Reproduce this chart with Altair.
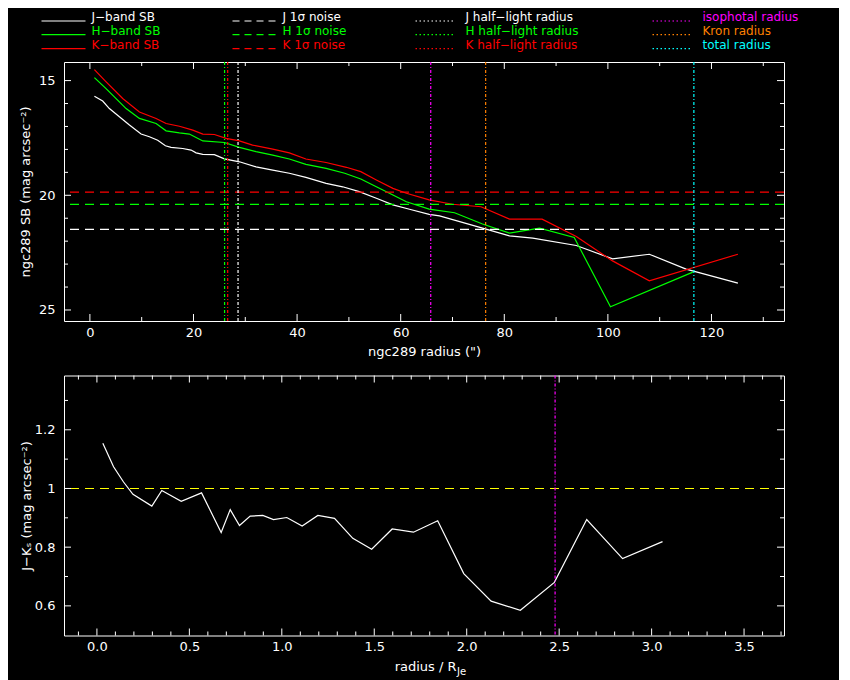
import altair as alt
import pandas as pd

# ---------------- data ----------------
j_r = [0.87, 2.47, 3.76, 5.69, 7.63, 9.88, 11.49, 13.09, 14.58, 15.67, 17.92, 19.53, 20.5, 21.78,
       24.03, 25.97, 28.86, 32.08, 35.3, 38.5, 41.7, 45.6, 48.8, 52.0, 55.3, 58.5, 61.7, 65.5,
       67.5, 75.8, 81.0, 85.5, 93.9, 100.9, 108.0, 115.1, 125.1]
j_sb = [15.68, 15.89, 16.22, 16.58, 16.94, 17.33, 17.45, 17.60, 17.84, 17.91, 17.96, 18.03, 18.15,
        18.22, 18.23, 18.41, 18.54, 18.76, 18.90, 19.04, 19.22, 19.48, 19.63, 19.84, 20.13, 20.42,
        20.61, 20.83, 20.90, 21.43, 21.77, 21.87, 22.19, 22.77, 22.57, 23.22, 23.83]

h_r = [0.87, 3.12, 6.99, 9.56, 12.78, 14.71, 17.28, 19.2, 21.8, 25.97, 28.86, 32.08, 35.3, 38.5,
       41.7, 45.6, 49.2, 52.3, 55.3, 58.5, 61.1, 65.5, 70.4, 75.8, 81.0, 86.8, 93.5, 100.5, 116.4]
h_sb = [14.87, 15.35, 16.22, 16.65, 16.87, 17.19, 17.28, 17.33, 17.63, 17.70, 17.91, 18.10, 18.25,
        18.42, 18.65, 18.83, 19.04, 19.29, 19.63, 19.99, 20.28, 20.60, 20.76, 21.25, 21.65, 21.43,
        21.84, 24.86, 23.35]

k_r = [0.87, 2.99, 6.33, 9.56, 12.78, 14.71, 17.28, 19.86, 21.8, 24.03, 26.3, 28.86, 31.4, 35.3,
       38.5, 41.7, 45.6, 49.5, 52.3, 55.3, 58.5, 61.1, 65.5, 70.0, 75.5, 81.0, 87.3, 93.9, 100.9,
       108.0, 125.1]
k_sb = [14.52, 15.02, 15.78, 16.37, 16.65, 16.87, 16.99, 17.16, 17.33, 17.35, 17.52, 17.63, 17.81,
        17.99, 18.15, 18.42, 18.57, 18.78, 18.97, 19.33, 19.70, 19.91, 20.20, 20.39, 20.50, 21.04,
        21.04, 21.80, 22.86, 23.73, 22.57]

noise_band = ["J", "H", "K"]
noise_sb = [21.49, 20.40, 19.86]

radius_names = ["J half-light", "H half-light", "K half-light", "isophotal", "Kron", "total"]
radius_vals = [28.6, 26.0, 26.6, 65.8, 76.4, 116.6]

jk_x = [0.032, 0.090, 0.144, 0.195, 0.297, 0.351, 0.456, 0.566, 0.672, 0.721, 0.771, 0.829,
        0.897, 0.955, 1.027, 1.110, 1.195, 1.285, 1.384, 1.486, 1.597, 1.712, 1.843, 1.984,
        2.132, 2.290, 2.474, 2.649, 2.843, 3.059]
jk_y = [1.154, 1.074, 1.022, 0.980, 0.940, 0.993, 0.956, 0.985, 0.850, 0.928, 0.874, 0.906,
        0.908, 0.894, 0.901, 0.872, 0.908, 0.898, 0.830, 0.793, 0.862, 0.851, 0.890, 0.710,
        0.616, 0.585, 0.680, 0.894, 0.761, 0.819]
jk_ref = [1.0]
iso_rel = [2.478]

# axis tick values
top_x_major = [0, 20, 40, 60, 80, 100, 120]
top_x_minor = [10, 30, 50, 70, 90, 110, 130]
top_y_major = [15, 20, 25]
top_y_minor = [16, 17, 18, 19, 21, 22, 23, 24]
bot_x_major = [0, 0.5, 1, 1.5, 2, 2.5, 3, 3.5]
bot_x_minor = [-0.1, 0.1, 0.2, 0.3, 0.4, 0.6, 0.7, 0.8, 0.9, 1.1, 1.2, 1.3, 1.4, 1.6, 1.7, 1.8,
               1.9, 2.1, 2.2, 2.3, 2.4, 2.6, 2.7, 2.8, 2.9, 3.1, 3.2, 3.3, 3.4, 3.6, 3.7]
bot_y_major = [0.6, 0.8, 1.0, 1.2]
bot_y_minor = [0.7, 0.9, 1.1, 1.3]

legend_labels = [["J\u2212band SB", "H\u2212band SB", "K\u2212band SB"],
                 ["J 1\u03c3 noise", "H 1\u03c3 noise", "K 1\u03c3 noise"],
                 ["J half\u2212light radius", "H half\u2212light radius", "K half\u2212light radius"],
                 ["isophotal radius", "Kron radius", "total radius"]]

# ---------------- styling ----------------
WHITE, GREEN, RED = "#ffffff", "#00ff00", "#ff0000"
MAGENTA, ORANGE, CYAN, YELLOW = "#ff00ff", "#ff8000", "#00ffff", "#ffff00"
band_colors = {"J": WHITE, "H": GREEN, "K": RED}
radius_colors = [WHITE, GREEN, RED, MAGENTA, ORANGE, CYAN]
legend_colors = [[WHITE, GREEN, RED], [WHITE, GREEN, RED], [WHITE, GREEN, RED],
                 [MAGENTA, ORANGE, CYAN]]
legend_dash = [None, [7, 5], [1.5, 2.5], [1.5, 2.5]]
DASH = [9, 6]
DASHDOT = [3, 2, 1, 2]
FONT = "DejaVu Sans"
FS = 13
LFS = 12
LW = 1.2

W = 720
H1 = 259
H2 = 260
MAJ, MIN = 7, 4

# legend layout (pixels relative to the top plot origin)
leg_cols = [(-22.5, 21.5, 27.5), (168.5, 211.5, 218.5), (351.5, 390.5, 401.5), (588.5, 627.5, 638.5)]
leg_rows = [(-45.0, -41.0), (-30.7, -27.4), (-17.4, -13.4)]

one = pd.DataFrame({"k": [0]})

# ---------------- top panel ----------------
sb_df = pd.concat([
    pd.DataFrame({"r": j_r, "sb": j_sb, "band": "J"}),
    pd.DataFrame({"r": h_r, "sb": h_sb, "band": "H"}),
    pd.DataFrame({"r": k_r, "sb": k_sb, "band": "K"}),
])

xs_top = alt.Scale(domain=[-5, 134], nice=False, zero=False)
ys_top = alt.Scale(domain=[14.19, 25.48], nice=False, zero=False, reverse=True)

x_axis_top = alt.Axis(values=top_x_major, ticks=False, domain=False, grid=False,
                      labelPadding=5, title='ngc289 radius (")', titleY=30.7,
                      titleBaseline="middle")
y_axis_top = alt.Axis(values=top_y_major, ticks=False, domain=False, grid=False,
                      labelPadding=9, title="ngc289 SB (mag arcsec\u207b\u00b2)",
                      titleX=-38.5, titleY=H1 / 2, titleBaseline="middle")

lines = alt.Chart(sb_df).mark_line(strokeWidth=LW, clip=True).encode(
    x=alt.X("r:Q", scale=xs_top, axis=x_axis_top),
    y=alt.Y("sb:Q", scale=ys_top, axis=y_axis_top),
    color=alt.Color("band:N", scale=alt.Scale(domain=list(band_colors.keys()),
                                              range=list(band_colors.values())), legend=None),
    detail="band:N",
)

noise_df = pd.DataFrame({"sb": noise_sb, "c": [band_colors[b] for b in noise_band]})
noise = alt.Chart(noise_df).mark_rule(strokeWidth=LW, strokeDash=DASH).encode(
    y=alt.Y("sb:Q", scale=ys_top),
    color=alt.Color("c:N", scale=None),
)

rad_df = pd.DataFrame({"r": radius_vals, "c": radius_colors, "name": radius_names})
radii = alt.Chart(rad_df).mark_rule(strokeWidth=LW, strokeDash=DASHDOT).encode(
    x=alt.X("r:Q", scale=xs_top),
    color=alt.Color("c:N", scale=None),
)


def xticks(vals, field, scale, h, ln):
    d = pd.DataFrame({field: vals})
    b = alt.Chart(d).mark_rule(color=WHITE, strokeWidth=1).encode(
        x=alt.X(f"{field}:Q", scale=scale), y=alt.value(h), y2=alt.value(h - ln))
    t = alt.Chart(d).mark_rule(color=WHITE, strokeWidth=1).encode(
        x=alt.X(f"{field}:Q", scale=scale), y=alt.value(0), y2=alt.value(ln))
    return [b, t]


def yticks(vals, field, scale, w, ln):
    d = pd.DataFrame({field: vals})
    l = alt.Chart(d).mark_rule(color=WHITE, strokeWidth=1).encode(
        y=alt.Y(f"{field}:Q", scale=scale), x=alt.value(0), x2=alt.value(ln))
    r = alt.Chart(d).mark_rule(color=WHITE, strokeWidth=1).encode(
        y=alt.Y(f"{field}:Q", scale=scale), x=alt.value(w), x2=alt.value(w - ln))
    return [l, r]


top_ticks = (xticks(top_x_major, "r", xs_top, H1, MAJ) + xticks(top_x_minor, "r", xs_top, H1, MIN)
             + yticks(top_y_major, "sb", ys_top, W, MAJ) + yticks(top_y_minor, "sb", ys_top, W, MIN))

legend_layers = []
for ci, (x0, x1, tx) in enumerate(leg_cols):
    for ri, (ty, ly) in enumerate(leg_rows):
        col = legend_colors[ci][ri]
        rule_kw = dict(color=col, strokeWidth=LW)
        if legend_dash[ci] is not None:
            rule_kw["strokeDash"] = legend_dash[ci]
        legend_layers.append(
            alt.Chart(one).mark_rule(**rule_kw).encode(
                x=alt.value(x0), x2=alt.value(x1), y=alt.value(ly)))
        legend_layers.append(
            alt.Chart(one).mark_text(text=legend_labels[ci][ri], color=col, align="left",
                                     baseline="middle", font=FONT, fontSize=LFS).encode(
                x=alt.value(tx), y=alt.value(ty)))

top = alt.layer(lines, noise, radii, *top_ticks, *legend_layers).properties(width=W, height=H1)

# ---------------- bottom panel ----------------
xs_bot = alt.Scale(domain=[-0.178, 3.716], nice=False, zero=False)
ys_bot = alt.Scale(domain=[0.499, 1.385], nice=False, zero=False)

jk_df = pd.DataFrame({"x": jk_x, "jk": jk_y})
x_axis_bot = alt.Axis(values=bot_x_major, ticks=False, domain=False, grid=False,
                      labelPadding=5, title="radius / R",
                      titleX=392, titleY=35, titleAlign="right", titleAnchor="start",
                      titleBaseline="alphabetic")
y_axis_bot = alt.Axis(values=bot_y_major, ticks=False, domain=False, grid=False,
                      labelPadding=9,
                      labelExpr="datum.value == 1 ? '1' : format(datum.value, '.1f')",
                      title="J\u2212K\u209b (mag arcsec\u207b\u00b2)",
                      titleX=-37.3, titleY=H2 / 2, titleBaseline="middle")

jk_line = alt.Chart(jk_df).mark_line(color=WHITE, strokeWidth=LW).encode(
    x=alt.X("x:Q", scale=xs_bot, axis=x_axis_bot),
    y=alt.Y("jk:Q", scale=ys_bot, axis=y_axis_bot),
)
ref = alt.Chart(pd.DataFrame({"jk": jk_ref})).mark_rule(
    color=YELLOW, strokeWidth=LW, strokeDash=DASH).encode(y=alt.Y("jk:Q", scale=ys_bot))
iso = alt.Chart(pd.DataFrame({"x": iso_rel})).mark_rule(
    color=MAGENTA, strokeWidth=LW, strokeDash=DASHDOT).encode(x=alt.X("x:Q", scale=xs_bot))
sub = alt.Chart(one).mark_text(text="Je", color=WHITE, align="left", baseline="middle",
                               font=FONT, fontSize=10).encode(
    x=alt.value(393), y=alt.value(H2 + 36))

bot_ticks = (xticks(bot_x_major, "x", xs_bot, H2, MAJ) + xticks(bot_x_minor, "x", xs_bot, H2, MIN)
             + yticks(bot_y_major, "jk", ys_bot, W, MAJ) + yticks(bot_y_minor, "jk", ys_bot, W, MIN))

bottom = alt.layer(jk_line, ref, iso, *bot_ticks, sub).properties(width=W, height=H2)

chart = alt.vconcat(top, bottom, spacing=13.5).properties(
    background="#000000",
    padding={"left": 10, "top": 2, "right": 40, "bottom": 4},
).configure_view(
    stroke=WHITE, strokeWidth=1, fill="#000000"
).configure_axis(
    labelColor=WHITE, titleColor=WHITE, labelFont=FONT, titleFont=FONT,
    labelFontSize=FS, titleFontSize=FS, titleFontWeight="normal",
)

chart.save("out.html", embed_options={"renderer": "svg", "actions": False})
